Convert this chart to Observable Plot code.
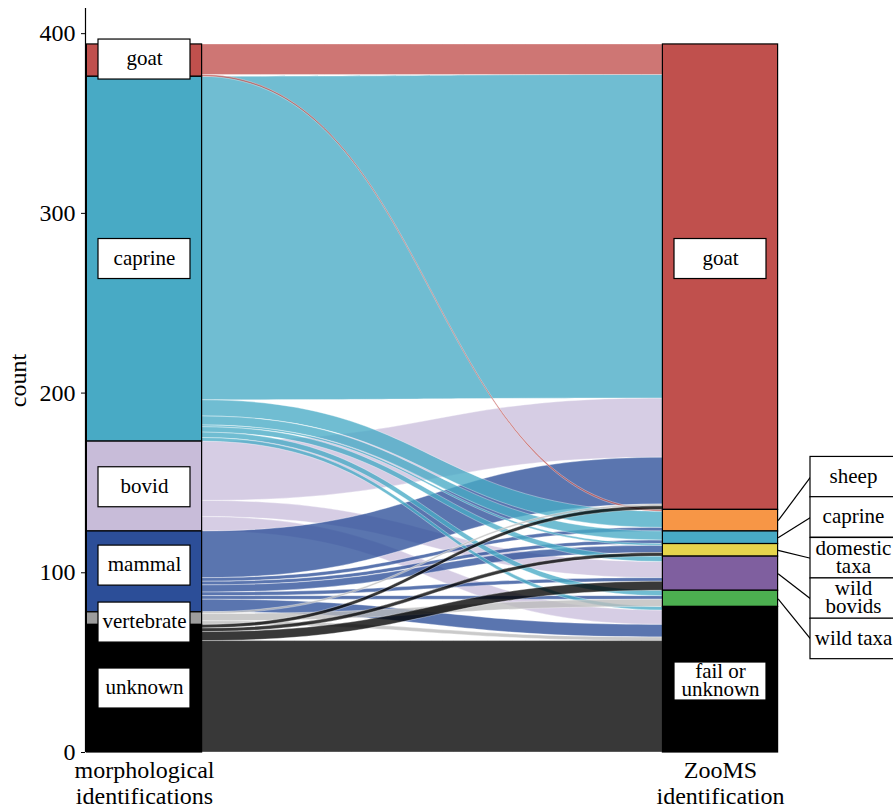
<!DOCTYPE html>
<html><head><meta charset="utf-8">
<script src="https://cdn.jsdelivr.net/npm/d3@7"></script>
<script src="https://cdn.jsdelivr.net/npm/@observablehq/plot@0.6"></script>
<style>
body{margin:0;background:#fff;overflow:hidden}
#chart svg, #chart svg text, #chart svg tspan { font-family: "Liberation Serif", "Times New Roman", serif !important; }
</style>
</head><body><div id="chart"></div>
<script>
// ---- data ----
const leftCats  = ["goat","caprine","bovid","mammal","vertebrate","unknown"];
const rightCats = ["goat","sheep","caprine","domestic taxa","wild bovids","wild taxa","fail or unknown"];
// counts from each morphological category to ZooMS categories (order = rightCats)
const fromGoat       = [17, 1, 0, 0, 0, 0, 0];
const fromCaprine    = [180, 9, 5, 1, 3, 3, 2];
const fromBovid      = [33, 0, 0, 0, 9, 0, 8];
const fromMammal     = [26, 2, 2, 4, 2, 2, 7];
const fromVertebrate = [1, 0, 0, 0, 0, 4, 2];
const fromUnknown    = [2, 0, 0, 2, 5, 0, 62];
const flowMatrix = [fromGoat, fromCaprine, fromBovid, fromMammal, fromVertebrate, fromUnknown];

const leftColors  = ["#c0504d","#48aac5","#c8bcd9","#2c4e98","#9d9d9d","#000000"];
const flowColors  = ["#c0504d","#48aac5","#cbbfdc","#2c4e98","#bbbbbb","#000000"];
const rightColors = ["#c0504d","#f79646","#48aac5","#e6d44c","#7f5f9f","#4caf50","#000000"];
const yTicks = [0, 100, 200, 300, 400];

// label anchors (count units, as placed by repel)
const leftLabelY  = [385.6, 274.6, 147.6, 104, 72.3, 35.6];
const rightBigLabels = [{text:"goat", y:274.6}, {text:"fail or\nunknown", y:39.5}];
const rightSmallCats = ["sheep","caprine","domestic taxa","wild bovids","wild taxa"];
const rightSmallText = ["sheep","caprine","domestic\ntaxa","wild\nbovids","wild taxa"];
const rightSmallY = [153.2, 130.8, 108.1, 85.6, 63.2];

// ---- layout ----
const W = 893, H = 811, mL = 85, mR = 0, mT = 8, mB = 59;
const unitPx = 576;                 // px per axis step
const xDomain = [1 - 59/unitPx, 2 + 173/unitPx];
const yDomain = [0, 414];
const cPerPx = (yDomain[1]-yDomain[0]) / (H - mT - mB);
const half = 0.1;                   // stratum half width
const font = "Liberation Serif, Times New Roman, serif";

// ---- stacking ----
const total = d3.sum(flowMatrix.flat());
const leftTotals = flowMatrix.map(r => d3.sum(r));
const rightTotals = rightCats.map((_, j) => d3.sum(flowMatrix, r => r[j]));
function stackTops(tots){ let t = total; return tots.map(v => { const top = t; t -= v; return top; }); }
const leftTops = stackTops(leftTotals), rightTops = stackTops(rightTotals);

const strata = [];
leftCats.forEach((c,i)=>strata.push({x:1, top:leftTops[i], bot:leftTops[i]-leftTotals[i], fill:leftColors[i]}));
rightCats.forEach((c,j)=>strata.push({x:2, top:rightTops[j], bot:rightTops[j]-rightTotals[j], fill:rightColors[j]}));

const lCur = leftTops.slice(), rCur = rightTops.slice();
const lPos = {}, rPos = {};
leftCats.forEach((c,i)=>rightCats.forEach((d,j)=>{
  const n = flowMatrix[i][j]; if(!n) return;
  lPos[i+"-"+j] = [lCur[i], lCur[i]-n]; lCur[i] -= n;
}));
rightCats.forEach((d,j)=>leftCats.forEach((c,i)=>{
  const n = flowMatrix[i][j]; if(!n) return;
  rPos[i+"-"+j] = [rCur[j], rCur[j]-n]; rCur[j] -= n;
}));
const drawOrder = [2,3,1,0,4,5];
const flowPts = [];
drawOrder.forEach(i=>rightCats.forEach((d,j)=>{
  const k = i+"-"+j; if(!lPos[k]) return;
  flowPts.push({id:k, x:1+half, y1:lPos[k][1], y2:lPos[k][0], fill:flowColors[i]});
  flowPts.push({id:k, x:2-half, y1:rPos[k][1], y2:rPos[k][0], fill:flowColors[i]});
}));

// label boxes
const bw = 92/unitPx, bh = 40*cPerPx;
const labels = [];
leftCats.forEach((c,i)=>labels.push({x:1, y:leftLabelY[i], text:c, x1:1-bw/2, x2:1+bw/2, h:bh}));
rightBigLabels.forEach(l=>labels.push({x:2, y:l.y, text:l.text, x1:2-bw/2, x2:2+bw/2, h: l.text.includes("\n") ? 38*cPerPx : bh}));
const sx1 = 2 + 90/unitPx, sx2 = 2 + 200/unitPx, sxc = 2 + 133/unitPx;
rightSmallCats.forEach((c,k)=>labels.push({x:sxc, y:rightSmallY[k], text:rightSmallText[k], x1:sx1, x2:sx2, h:40.5*cPerPx}));
const leaders = rightSmallCats.map((c,k)=>{
  const j = rightCats.indexOf(c);
  return {x1:2+half, y1:rightTops[j]-rightTotals[j]/2, x2:sx1, y2:rightSmallY[k]};
});

const chart = Plot.plot({
  width: W, height: H,
  marginLeft: mL, marginRight: mR, marginTop: mT, marginBottom: mB,
  x: {domain: xDomain, axis: null},
  y: {domain: yDomain, axis: null},
  color: {type: "identity"},
  style: {fontFamily: font, background: "#fff"},
  marks: [
    Plot.areaY(flowPts, {x:"x", y1:"y1", y2:"y2", z:"id", fill:"fill", fillOpacity:0.78,
      stroke:"white", strokeWidth:0.5, strokeOpacity:0.7, curve:"bump-x"}),
    Plot.rect(strata, {x1:d=>d.x-half, x2:d=>d.x+half, y1:"bot", y2:"top", fill:"fill", stroke:"black", strokeWidth:1.2}),
    Plot.link(leaders, {x1:"x1", y1:"y1", x2:"x2", y2:"y2", stroke:"black", strokeWidth:1.2}),
    Plot.rect(labels, {x1:"x1", x2:"x2", y1:d=>d.y-d.h/2, y2:d=>d.y+d.h/2, fill:"white", stroke:"black", strokeWidth:1.2}),
    Plot.text(labels, {x:"x", y:"y", text:"text", fontSize:21, lineHeight:0.86, fill:"black", fontFamily:font}),
    Plot.ruleX([xDomain[0]], {y1:yDomain[0], y2:yDomain[1], stroke:"black", strokeWidth:1.2}),
    Plot.axisY({ticks:yTicks, tickSize:4, tickPadding:6, fontSize:24, label:null, fontFamily:font, anchor:"left"}),
    Plot.text(["count"], {x:xDomain[0], y:(yDomain[0]+yDomain[1])/2, dx:-67, rotate:-90, text:d=>d, fontSize:24, fontFamily:font, fill:"black"}),
    Plot.text([{x:1, t:"morphological\nidentifications"}, {x:2, t:"ZooMS\nidentification"}],
      {x:"x", y:yDomain[0], text:"t", lineAnchor:"top", dy:6, fontSize:24, lineHeight:1.12, fontFamily:font, fill:"black"})
  ]
});
document.getElementById("chart").appendChild(chart);
</script>
</body></html>
